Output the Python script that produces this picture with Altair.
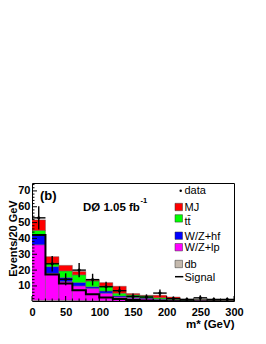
import altair as alt
import pandas as pd

# ---- data ----
bin_lo = [0, 20, 40, 60, 80, 100, 120, 140, 160, 180, 200, 220, 240, 260, 280]
bin_hi = [20, 40, 60, 80, 100, 120, 140, 160, 180, 200, 220, 240, 260, 280, 300]
bin_c = [10, 30, 50, 70, 90, 110, 130, 150, 170, 190, 210, 230, 250, 270, 290]

db = [1.0, 1.0, 1.0, 0.8, 0.7, 0.6, 0.5, 0.5, 0.5, 0.5, 0.4, 0.3, 0.8, 0.4, 0.3]
wz_lp = [35.0, 17.0, 11.8, 9.2, 7.8, 4.8, 2.5, 1.8, 1.5, 1.0, 0.7, 0.5, 0.4, 0.3, 0.2]
wz_hf = [6.0, 4.2, 2.5, 2.2, 1.0, 1.4, 0.7, 0.5, 0.4, 0.3, 0.2, 0.1, 0.1, 0.05, 0.05]
ttbar = [3.0, 2.1, 4.2, 4.8, 3.6, 3.2, 1.7, 1.6, 1.4, 0.8, 0.4, 0.3, 0.2, 0.1, 0.1]
mj = [6.7, 4.2, 3.5, 2.1, 0.5, 2.1, 4.4, 0.8, 0.3, 1.5, 1.3, 0.4, 0.1, 0.1, 0.1]

data_val = [53.0, 24.0, 14.2, 20.0, 14.0, 9.5, 7.0, 3.4, 3.0, 5.5, 2.0, 1.5, 2.5, 1.5, 1.5]
data_err = [7.3, 4.9, 3.8, 4.5, 3.7, 3.1, 2.6, 1.8, 1.7, 2.3, 1.4, 1.2, 1.6, 1.2, 1.2]

signal = [42.2, 17.2, 11.5, 7.3, 4.7, 2.7, 1.8, 1.2, 0.8, 0.5, 0.4, 0.3, 0.2, 0.15, 0.1]

samples = ["db", "W/Z+lp", "W/Z+hf", "tt", "MJ"]
sample_colors = ["#c4b9ad", "#ff00ff", "#0000ff", "#00ff00", "#ff0000"]

y_major = [10, 20, 30, 40, 50, 60, 70]
y_minor = [2, 4, 6, 8, 12, 14, 16, 18, 22, 24, 26, 28, 32, 34, 36, 38, 42, 44, 46, 48,
           52, 54, 56, 58, 62, 64, 66, 68, 72, 74]
x_major = [0, 50, 100, 150, 200, 250, 300]
x_minor = [10, 20, 30, 40, 60, 70, 80, 90, 110, 120, 130, 140, 160, 170, 180, 190,
           210, 220, 230, 240, 260, 270, 280, 290]

FONT = "Liberation Sans"

# ---- tables ----
rows = []
for order, (name, vals) in enumerate(zip(samples, [db, wz_lp, wz_hf, ttbar, mj])):
    for lo, hi, v in zip(bin_lo, bin_hi, vals):
        rows.append({"sample": name, "order": order, "lo": lo, "hi": hi, "val": v})
stack_df = pd.DataFrame(rows)

data_df = pd.DataFrame({"lo": bin_lo, "hi": bin_hi, "c": bin_c, "v": data_val, "e": data_err})
sig_df = pd.DataFrame({"x": bin_lo + [bin_hi[-1]], "y": signal + [signal[-1]]})

xs = alt.Scale(domain=[0, 300], nice=False, zero=False)
ys = alt.Scale(domain=[0.5, 75], nice=False, zero=False)

ax_x = alt.Axis(
    values=x_major, ticks=False, domain=False, grid=False, format="d",
    labelFont=FONT, labelFontWeight="bold", labelFontSize=11, labelColor="black",
    labelPadding=5, labelFlush=False, title="m* (GeV)", titleFont=FONT,
    titleFontWeight="bold", titleFontSize=11.5, titleColor="black", titleAlign="right",
    titleX=202, titleY=26, titleBaseline="alphabetic")
ax_y = alt.Axis(
    values=y_major, ticks=False, domain=False, grid=False, format="d",
    labelFont=FONT, labelFontWeight="bold", labelFontSize=11, labelColor="black",
    labelPadding=2, title="Events/20 GeV", titleFont=FONT, titleFontWeight="bold",
    titleFontSize=11, titleColor="black", titleAngle=-90, titleAlign="center",
    titleBaseline="middle", titleX=-18.5, titleY=55)


def X(field):
    return alt.X(field, scale=xs, axis=ax_x, title="m* (GeV)")


def Y(field):
    return alt.Y(field, scale=ys, axis=ax_y, title="Events/20 GeV")


bars = (
    alt.Chart(stack_df)
    .transform_stack(stack="val", groupby=["lo"], as_=["y0", "y1"],
                     sort=[alt.SortField("order", order="ascending")])
    .mark_rect(stroke="#555555", strokeWidth=0.4, clip=True)
    .encode(
        x=X("lo:Q"), x2="hi:Q", y=Y("y0:Q"), y2="y1:Q",
        color=alt.Color("sample:N", scale=alt.Scale(domain=samples, range=sample_colors),
                        legend=None),
    )
)

sig_line = alt.Chart(sig_df).mark_line(interpolate="step-after", color="black",
                                       strokeWidth=2, clip=True).encode(
    x=X("x:Q"), y=Y("y:Q"))

base_d = alt.Chart(data_df).transform_calculate(lo_e="datum.v - datum.e", hi_e="datum.v + datum.e")
data_h = base_d.mark_rule(color="black", strokeWidth=1.4).encode(
    x=X("lo:Q"), x2="hi:Q", y=Y("v:Q"))
data_v = base_d.mark_rule(color="black", strokeWidth=1.4, clip=True).encode(
    x=X("c:Q"), y=Y("lo_e:Q"), y2="hi_e:Q")
data_p = base_d.mark_circle(color="black", size=10, opacity=1).encode(
    x=X("c:Q"), y=Y("v:Q"))

# inward ticks
ymaj = alt.Chart(pd.DataFrame({"t": y_major})).mark_rule(color="black", strokeWidth=1).encode(
    y=Y("t:Q"), x=alt.value(0), x2=alt.value(5))
ymin = alt.Chart(pd.DataFrame({"t": y_minor})).mark_rule(color="black", strokeWidth=1).encode(
    y=Y("t:Q"), x=alt.value(0), x2=alt.value(2.5))
xmaj = alt.Chart(pd.DataFrame({"t": x_major})).mark_rule(color="black", strokeWidth=1).encode(
    x=X("t:Q"), y=alt.value(118), y2=alt.value(113))
xmin = alt.Chart(pd.DataFrame({"t": x_minor})).mark_rule(color="black", strokeWidth=1).encode(
    x=X("t:Q"), y=alt.value(118), y2=alt.value(115.5))


# annotations (plot-area coordinates: page x - 32, page y - 183)
def text_layer(txt, x, y, size, weight="normal", align="left", baseline="alphabetic"):
    return alt.Chart(pd.DataFrame({"t": [txt]})).mark_text(
        font=FONT, fontSize=size, fontWeight=weight, align=align, baseline=baseline,
        color="black").encode(text="t:N", x=alt.value(x), y=alt.value(y))


ann = [
    text_layer("(b)", 8, 17, 13, "bold"),
    text_layer("DØ 1.05 fb", 51, 28, 11.5, "bold"),
    text_layer("-1", 108.5, 20, 7.5, "bold"),
]

# legend
LX0, LX1, TX = 143, 150.5, 152.5
legend_rows = [
    ("data", "dot", "black", 7.7, 11.3),
    ("MJ", "box", "#ff0000", 24, 28),
    ("tt\u0304", "box", "#00ff00", 35.4, 41.5),
    ("W/Z+hf", "box", "#0000ff", 52.7, 57),
    ("W/Z+lp", "box", "#ff00ff", 64.2, 68.3),
    ("db", "box", "#c4b9ad", 81, 84.7),
    ("Signal", "line", "black", 93.7, 97.5),
]
leg = []
for label, kind, col, yc, yb in legend_rows:
    one = alt.Chart(pd.DataFrame({"t": [label]}))
    if kind == "box":
        leg.append(one.mark_rect(color=col, stroke="#333333", strokeWidth=0.5).encode(
            x=alt.value(LX0), x2=alt.value(LX1), y=alt.value(yc - 3.7), y2=alt.value(yc + 3.7)))
    elif kind == "dot":
        leg.append(one.mark_circle(color="black", size=6, opacity=1).encode(
            x=alt.value(148.7), y=alt.value(yc)))
    else:
        leg.append(one.mark_rule(color="black", strokeWidth=1.5).encode(
            x=alt.value(LX0), x2=alt.value(151.3), y=alt.value(yc)))
    leg.append(text_layer(label, TX, yb, 11))

chart = alt.layer(bars, sig_line, data_h, data_v, data_p, ymaj, ymin, xmaj, xmin,
                  *ann, *leg).properties(
    width=202, height=118,
    autosize=alt.AutoSizeParams(type="none"),
    padding={"left": 24, "top": 175, "right": 24, "bottom": 30},
    background="white",
).configure_view(stroke="black", strokeWidth=1)

chart.save("out.html", embed_options={"renderer": "svg", "actions": False})
